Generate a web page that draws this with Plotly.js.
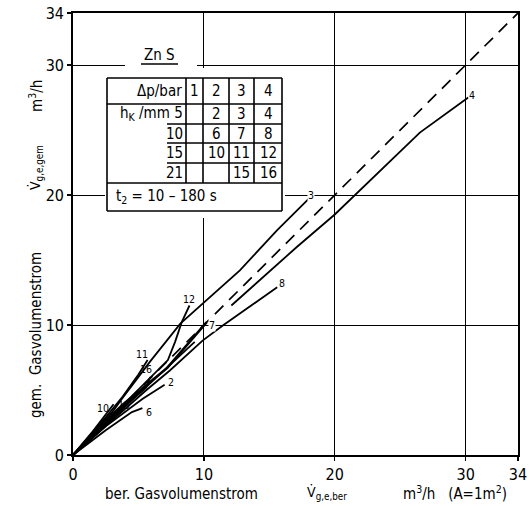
<!DOCTYPE html>
<html><head><meta charset="utf-8">
<script src="https://cdn.plot.ly/plotly-3.0.1.min.js"></script>
<style>body{margin:0;background:#fff}#chart{width:530px;height:506px}</style>
</head><body><div id="chart"></div>
<script>
// ---- data ----
const tickVals = [0, 10, 20, 30, 34];
const tickText = ["0", "10", "20", "30", "34"];
const diagX = [0, 34];
const diagY = [0, 34];
const curve3X = [0, 3, 3.8, 5.3, 5.9, 8.2, 12.75, 15.6, 18.1];
const curve3Y = [0, 3.3, 4.4, 6.4, 7.2, 10.1, 14.2, 17.3, 19.8];
const curve4X = [0, 3, 6, 9.3, null, 12.1, 17.1, 20, 26.5, 30.2];
const curve4Y = [0, 2.8, 5.6, 8.7, null, 11.5, 16.0, 18.5, 24.8, 27.5];
const curve7X = [0, 3, 5.5, 7.2, 8.5, 9.9, 10.2];
const curve7Y = [0, 2.9, 5.3, 6.7, 8.2, 9.8, 10.2];
const curve8X = [0, 3, 5.5, 7.4, 9.9, 11.5, 13.5, 15.6];
const curve8Y = [0, 2.7, 4.9, 6.5, 8.8, 10.0, 11.4, 12.9];
const curve12X = [0, 3, 5.5, 7.25, 7.8, 8.3, 8.9];
const curve12Y = [0, 3.0, 5.5, 7.3, 8.7, 10.2, 11.5];
const curve11X = [0, 2.5, 3.8, 5.0, 5.7];
const curve11Y = [0, 2.9, 4.5, 6.2, 7.3];
const curve16X = [0, 3, 4.9, 5.6, 5.9];
const curve16Y = [0, 3.0, 4.6, 5.2, 6.0];
const curve2X = [0, 2.5, 5.3, 7.0];
const curve2Y = [0, 2.2, 4.3, 5.4];
const curve6X = [0, 2.5, 4.5, 5.3];
const curve6Y = [0, 1.9, 3.3, 3.6];
const curve10X = [0, 1.5, 3.1];
const curve10Y = [0, 1.8, 3.9];
const curve15X = [0, 2.0, 3.8, 4.4];
const curve15Y = [0, 2.2, 3.9, 4.4];
const curveNames = ["3", "4", "7", "8", "12", "11", "16", "2", "6", "10", "15"];

const tableHeader = ["Δp/bar", "1", "2", "3", "4"];
const tableRowLabels = ["h<sub>K</sub> /mm 5", "10", "15", "21"];
const tableCells = [["", "2", "3", "4"], ["", "6", "7", "8"], ["", "10", "11", "12"], ["", "", "15", "16"]];
const tableFooter = "t<sub>2</sub> = 10 – 180 s";
const materialLabel = "Zn S";

// ---- layout helpers (pixel -> paper) ----
const L = 73, R = 518, T = 13, B = 455;
const PX = p => (p - L) / (R - L);
const PY = p => (B - p) / (B - T);
const FONT = "DejaVu Sans Condensed, DejaVu Sans, sans-serif";

const curves = [
  [curve3X, curve3Y], [curve4X, curve4Y], [curve7X, curve7Y], [curve8X, curve8Y],
  [curve12X, curve12Y], [curve11X, curve11Y], [curve16X, curve16Y], [curve2X, curve2Y],
  [curve6X, curve6Y], [curve10X, curve10Y], [curve15X, curve15Y]
];
const traces = [{
  x: diagX, y: diagY, mode: "lines", line: {color: "#000", width: 1.7, dash: "12px,8px"},
  hoverinfo: "skip", showlegend: false
}];
curves.forEach((c, i) => traces.push({
  x: c[0], y: c[1], mode: "lines", name: curveNames[i], connectgaps: false,
  line: {color: "#000", width: curveNames[i] === "7" ? 2.6 : 1.8}, showlegend: false
}));

// curve labels (positions in data units)
const labelPos = {
  "3": [18.2, 20.0], "4": [30.5, 27.7], "7": [10.6, 10.0], "8": [16.0, 13.2],
  "12": [8.9, 12.0], "11": [5.3, 7.8], "16": [5.6, 6.6], "2": [7.5, 5.6],
  "6": [5.8, 3.3], "10": [2.3, 3.6], "15": [3.9, 3.85]
};
const annotations = [];
curveNames.forEach(n => {
  const p = labelPos[n];
  annotations.push({x: p[0], y: p[1], xref: "x", yref: "y", text: n, showarrow: false,
    xanchor: "center", yanchor: "middle",
    font: {family: FONT, size: 10.5, color: "#000"},
    bgcolor: (n === "3" || n === "4" || n === "7") ? "#fff" : "rgba(0,0,0,0)", borderpad: 0});
});

// axis titles
const addText = (px, py, text, size, angle) => annotations.push({
  x: PX(px), y: PY(py), xref: "paper", yref: "paper", text: text, showarrow: false,
  xanchor: "center", yanchor: "middle",
  textangle: angle || 0, font: {family: FONT, size: size, color: "#000"}
});
addText(181, 494, "ber. Gasvolumenstrom", 15);
addText(327, 493, "V̇<sub>g,e,ber</sub>", 14);
addText(455, 493, "m<sup>3</sup>/h   (A=1m<sup>2</sup>)", 15);
addText(36, 335, "gem.  Gasvolumenstrom", 15, -90);
addText(36, 168, "V̇<sub>g,e,gem</sub>", 14, -90);
addText(36, 96, "m<sup>3</sup>/h", 15, -90);

// table
const colEdges = [107, 186, 203, 229, 254, 282];
const rowEdges = [78, 104, 124, 143, 163, 183, 211];
const colCenters = [0, 194.5, 216, 241.5, 268];
const shapes = [];
// white covers for grid lines (no traces pass there)
shapes.push({type: "rect", xref: "paper", yref: "paper", x0: PX(105), x1: PX(285), y0: PY(68), y1: PY(218),
  fillcolor: "#fff", line: {width: 0}, layer: "above"});
shapes.push({type: "rect", xref: "paper", yref: "paper", x0: PX(125), x1: PX(197), y0: PY(50), y1: PY(72),
  fillcolor: "#fff", line: {width: 0}, layer: "above"});
const ln = (x0, y0, x1, y1, w) => shapes.push({type: "line", xref: "paper", yref: "paper",
  x0: PX(x0), y0: PY(y0), x1: PX(x1), y1: PY(y1), line: {color: "#000", width: w || 1.6}, layer: "above"});
// outer box
ln(107, 78, 282, 78); ln(107, 211, 282, 211); ln(107, 78, 107, 211); ln(282, 78, 282, 211);
ln(107, 104, 282, 104); ln(107, 183, 282, 183);
[124, 143, 163].forEach(y => ln(167, y, 282, y));
colEdges.slice(1, 5).forEach(x => ln(x, 78, x, 183));
ln(141, 64, 178, 64, 1.5); // ZnS underline

const cellText = (px, py, text, anchor) => annotations.push({
  x: PX(px), y: PY(py), xref: "paper", yref: "paper", text: text, showarrow: false,
  xanchor: anchor || "center", yanchor: "middle", font: {family: FONT, size: 15, color: "#000"}
});
const rowMid = i => (rowEdges[i] + rowEdges[i + 1]) / 2;
cellText(184, rowMid(0), tableHeader[0], "right");
for (let j = 1; j < 5; j++) cellText(colCenters[j], rowMid(0), tableHeader[j]);
tableRowLabels.forEach((lab, i) => {
  cellText(185, rowMid(i + 1), lab, "right");
  tableCells[i].forEach((v, j) => { if (v) cellText(colCenters[j + 1], rowMid(i + 1), v); });
});
cellText(114, rowMid(5), tableFooter, "left");
cellText(159, 55, materialLabel);

const axisCommon = {
  range: [0, 34], tickvals: tickVals, ticktext: tickText, showgrid: true, gridcolor: "#000",
  gridwidth: 1, zeroline: false, showline: true, linecolor: "#000", linewidth: 1.8, mirror: true,
  ticks: "outside", ticklen: 4, tickwidth: 1.4, tickcolor: "#000",
  tickfont: {family: FONT, size: 16, color: "#000"}, fixedrange: true
};
const layout = {
  width: 530, height: 506, margin: {l: L, r: 530 - R, t: T, b: 506 - B},
  paper_bgcolor: "#fff", plot_bgcolor: "#fff", showlegend: false,
  xaxis: Object.assign({}, axisCommon),
  yaxis: Object.assign({}, axisCommon),
  shapes: shapes, annotations: annotations
};
Plotly.newPlot("chart", traces, layout, {staticPlot: true});
</script></body></html>
